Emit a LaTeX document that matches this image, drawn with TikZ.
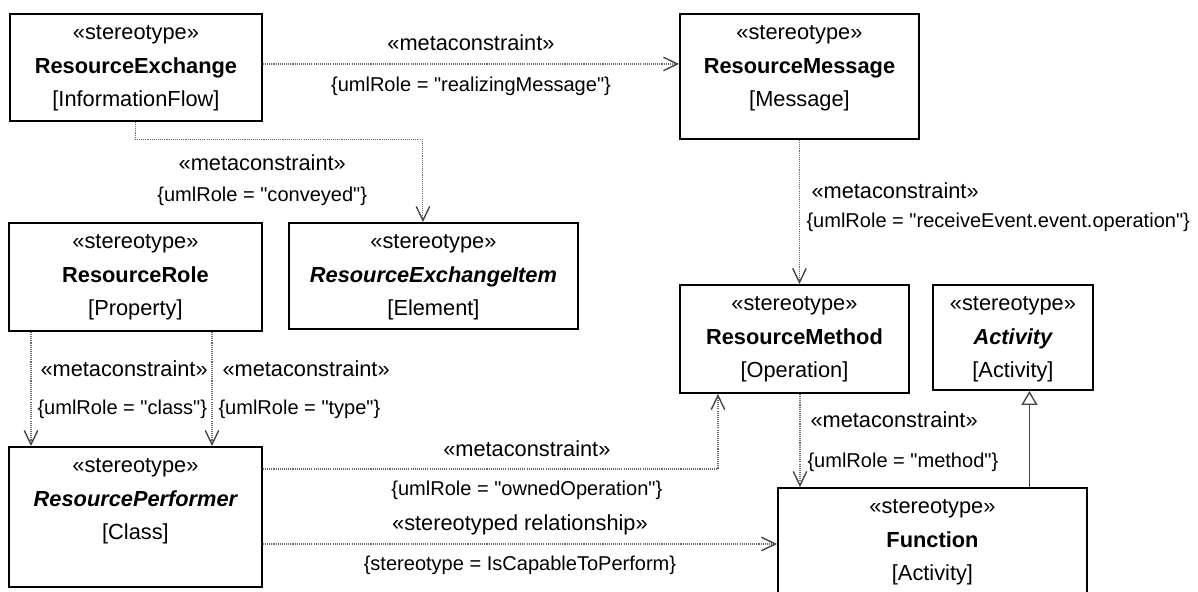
\documentclass[tikz,border=0pt]{standalone}
\usepackage{fontspec}
\newfontfamily\umlfont{Liberation Sans}
\usepackage{tikz}
\usetikzlibrary{arrows.meta,positioning,calc}
\definecolor{dotgray}{RGB}{105,105,105}
\definecolor{tipgray}{RGB}{70,70,70}
\tikzset{
  >={Straight Barb[length=2.8mm,width=2.7mm,line width=0.8pt,color=tipgray]},
  umlbox/.style={draw=black,line width=1.1pt,anchor=north west,inner sep=0pt},
  boxtxt/.style={inner sep=0pt,text height=8.5pt,text depth=0.5pt},
  lab/.style={inner sep=0pt,text height=8.5pt,text depth=0.5pt},
  cons/.style={lab,font=\umlfont\fontsize{11.4}{14}\selectfont},
  meta/.style={->,draw=dotgray,line width=0.6pt,dash pattern=on 0.6pt off 0.6pt},
  gen/.style={-{Triangle[open,length=2.8mm,width=3.2mm,fill=white,line width=0.8pt]},draw=tipgray,line width=0.85pt},
}

\begin{document}
\begin{tikzpicture}[font=\umlfont\fontsize{12.4}{14}\selectfont]
  \useasboundingbox (0,0) rectangle (23.96,-11.82);
  \foreach \n/\x/\y/\w/\h/\t/\k/\f in {
    rex/0.18/0.26/5.04/2.14/ResourceExchange/InformationFlow/\bfseries,
    rmsg/13.58/0.26/4.78/2.50/ResourceMessage/Message/\bfseries,
    rrole/0.16/4.44/5.06/2.16/ResourceRole/Property/\bfseries,
    rexi/5.76/4.44/5.78/2.12/ResourceExchangeItem/Element/\bfseries\itshape,
    rmeth/13.58/5.68/4.58/2.16/ResourceMethod/Operation/\bfseries,
    act/18.64/5.68/3.20/2.10/Activity/Activity/\bfseries\itshape,
    rperf/0.16/8.92/5.06/2.80/ResourcePerformer/Class/\bfseries\itshape,
    func/15.54/9.74/6.18/2.70/Function/Activity/\bfseries}
  {
    \node[umlbox,minimum width=\w cm,minimum height=\h cm] (\n) at (\x,-\y) {};
    \node[boxtxt] (\n-s) at ([yshift=-0.39cm]\n.north) {«stereotype»};
    \node[boxtxt] (\n-n) at ([yshift=-1.06cm]\n.north) {\f\t};
    \node[boxtxt] (\n-k) at ([yshift=-1.73cm]\n.north) {[\k]};
  }
  \draw[meta] ([yshift=0.07cm]rex.east) --
    node[lab,yshift=0.42cm] (l1a) {«metaconstraint»}
    node[cons,yshift=-0.40cm] (l1b) {\{umlRole = "realizingMessage"\}}
    ([yshift=0.07cm]rex.east -| rmsg.west);
  \draw[meta] (rex.south) -- ++(0,-0.36) -|
    node[lab,pos=0.22,yshift=-0.48cm] (l2a) {«metaconstraint»}
    node[cons,pos=0.22,yshift=-1.10cm] (l2b) {\{umlRole = "conveyed"\}}
    ([xshift=-0.21cm]rexi.north);
  \draw[meta] (rmsg.south) --
    node[lab,anchor=west,pos=0.356,xshift=0.23cm] (l3a) {«metaconstraint»}
    node[cons,anchor=west,pos=0.562,xshift=0.13cm] (l3b) {\{umlRole = "receiveEvent.event.operation"\}}
    (rmsg.south |- rmeth.north);
  \draw[meta] ([xshift=0.46cm]rrole.south west) --
    node[lab,anchor=west,pos=0.33,xshift=0.18cm] (l4a) {«metaconstraint»}
    node[cons,anchor=west,pos=0.66,xshift=0.12cm] (l4b) {\{umlRole = "class"\}}
    ([xshift=0.46cm]rperf.north west);
  \draw[meta] ([xshift=4.08cm]rrole.south west) --
    node[lab,anchor=west,pos=0.33,xshift=0.2cm] (l5a) {«metaconstraint»}
    node[cons,anchor=west,pos=0.66,xshift=0.12cm] (l5b) {\{umlRole = "type"\}}
    ([xshift=4.08cm]rperf.north west);
  \draw[meta] ([yshift=0.96cm]rperf.east) -|
    node[lab,pos=0.29,yshift=0.40cm] (l6a) {«metaconstraint»}
    node[cons,pos=0.29,yshift=-0.38cm] (l6b) {\{umlRole = "ownedOperation"\}}
    ([xshift=-1.53cm]rmeth.south);
  \draw[meta] ([yshift=-0.54cm]rperf.east) --
    node[lab,yshift=0.42cm] (l7a) {«stereotyped relationship»}
    node[cons,yshift=-0.38cm] (l7b) {\{stereotype = IsCapableToPerform\}}
    ([yshift=-0.54cm]rperf.east -| func.west);
  \draw[meta] ([xshift=0.11cm]rmeth.south) --
    node[lab,anchor=west,pos=0.29,xshift=0.2cm] (l8a) {«metaconstraint»}
    node[cons,anchor=west,pos=0.71,xshift=0.14cm] (l8b) {\{umlRole = "method"\}}
    ([xshift=0.11cm]rmeth.south |- func.north);
  \draw[gen] ([xshift=0.33cm]act.south |- func.north) -- ([xshift=0.33cm]act.south);
\end{tikzpicture}
\end{document}
